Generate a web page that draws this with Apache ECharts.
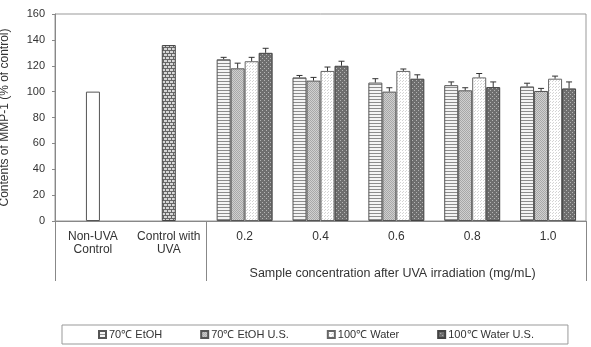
<!DOCTYPE html>
<html>
<head>
<meta charset="utf-8">
<script src="https://cdn.jsdelivr.net/npm/echarts@6/dist/echarts.min.js"></script>
<style>
  html, body { margin: 0; padding: 0; background: #fff; }
  #container { width: 591px; height: 347px; }
</style>
</head>
<body>
<div id="container"></div>
<script>
// MMP-1 含量柱状图
var categories = ['Non-UVA\nControl', 'Control with\nUVA', '0.2', '0.4', '0.6', '0.8', '1.0'];
var controlValues = [100, 136];
var seriesNames = ['70℃ EtOH', '70℃ EtOH U.S.', '100℃ Water', '100℃ Water U.S.'];
var etoh = [125, 111, 107, 105, 104];
var etohUS = [118, 108.5, 100, 101, 100.5];
var water = [123.5, 116, 116, 111, 110];
var waterUS = [130, 120, 110, 103.5, 102.5];
var etohErr = [1.5, 1.5, 3, 2.5, 2.5];
var etohUSErr = [4, 2.5, 3, 2, 2];
var waterErr = [3, 3, 1.5, 3, 2];
var waterUSErr = [3.5, 3.5, 3, 4, 5];
var yTicks = [0, 160, 20];
var groupTitle = 'Sample concentration after UVA irradiation (mg/mL)';

// 填充图案
function pat(w, h, bg, draw) {
  var c = document.createElement('canvas');
  c.width = w; c.height = h;
  var g = c.getContext('2d');
  g.fillStyle = bg;
  g.fillRect(0, 0, w, h);
  draw(g);
  return { image: c, repeat: 'repeat' };
}
var stripes = pat(4, 3, '#f4f4f4', function (g) {
  g.fillStyle = '#8c8c8c'; g.fillRect(0, 0, 4, 1);
});
var greyDots = pat(2, 2, '#d0d0d0', function (g) {
  g.fillStyle = '#a8a8a8'; g.fillRect(0, 0, 1, 1); g.fillRect(1, 1, 1, 1);
});
var lightDots = pat(3, 3, '#ffffff', function (g) {
  g.fillStyle = '#d4d4d4'; g.fillRect(0, 0, 1, 1); g.fillRect(1, 2, 1, 1);
});
var darkDots = pat(4, 4, '#6e6e6e', function (g) {
  g.fillStyle = '#b4b4b4'; g.fillRect(0, 0, 1, 1); g.fillRect(2, 2, 1, 1);
});
var brick = pat(8, 6, '#666666', function (g) {
  g.fillStyle = '#d6d6d6';
  g.fillRect(0, 0, 3, 2); g.fillRect(4, 0, 3, 2);
  g.fillRect(2, 3, 3, 2); g.fillRect(6, 3, 2, 2); g.fillRect(0, 3, 1, 2);
});
var fills = [stripes, greyDots, lightDots, darkDots];
var borders = ['#555', '#555', '#666', '#444'];

var groups = [etoh, etohUS, water, waterUS];
var errs = [etohErr, etohUSErr, waterErr, waterUSErr];
var barW = 14;

function pad(arr) { return ['-', '-'].concat(arr); }

var errData = [];
groups.forEach(function (vals, s) {
  vals.forEach(function (v, i) {
    errData.push([i + 2, v, errs[s][i], s]);
  });
});

var series = groups.map(function (vals, s) {
  return {
    name: seriesNames[s],
    type: 'bar',
    xAxisIndex: 0,
    barWidth: barW,
    barGap: '0%',
    data: pad(vals),
    itemStyle: { color: fills[s], borderColor: borders[s], borderWidth: 1 }
  };
});

series.push({
  name: 'controls',
  type: 'bar',
  xAxisIndex: 1,
  barWidth: barW,
  data: [
    { value: controlValues[0], itemStyle: { color: '#fff', borderColor: '#555', borderWidth: 1 } },
    { value: controlValues[1], itemStyle: { color: brick, borderColor: '#444', borderWidth: 1 } },
    '-', '-', '-', '-', '-'
  ]
});

series.push({
  type: 'custom',
  xAxisIndex: 0,
  z: 5,
  data: errData,
  renderItem: function (params, api) {
    var top = api.coord([api.value(0), api.value(1)]);
    var hi = api.coord([api.value(0), api.value(1) + api.value(2)]);
    var x = top[0] + (api.value(3) - 1.5) * barW;
    var st = { stroke: '#333', lineWidth: 1 };
    return {
      type: 'group',
      children: [
        { type: 'line', shape: { x1: x, y1: top[1], x2: x, y2: hi[1] }, style: st },
        { type: 'line', shape: { x1: x - 3, y1: hi[1], x2: x + 3, y2: hi[1] }, style: st }
      ]
    };
  }
});

var txt = { color: '#333', fontFamily: 'Liberation Sans', fontSize: 11 };

var myChart = echarts.init(document.getElementById('container'));
var option = {
  animation: false,
  textStyle: { fontFamily: 'Liberation Sans' },
  grid: {
    left: 55, right: 5, top: 14, bottom: 126,
    containLabel: false,
    outerBoundsMode: 'none',
    show: true, borderColor: '#999', borderWidth: 1
  },
  legend: {
    data: seriesNames,
    left: 62,
    top: 325,
    padding: [4, 34, 4, 36],
    borderColor: '#999',
    borderWidth: 1,
    itemWidth: 7,
    itemHeight: 7,
    itemGap: 38,
    icon: 'rect',
    textStyle: { color: '#333', fontFamily: 'Liberation Sans', fontSize: 11, padding: [0, 0, 0, -2] }
  },
  xAxis: [
    {
      type: 'category',
      data: categories,
      axisLine: { lineStyle: { color: '#888' } },
      axisTick: { length: 37, interval: 0, lineStyle: { color: '#888' } },
      axisLabel: Object.assign({}, txt, { fontSize: 12, interval: 0, margin: 9, lineHeight: 13, verticalAlign: 'top' })
    },
    {
      type: 'category',
      data: categories,
      show: false
    },
    {
      type: 'value',
      min: 0,
      max: 7,
      position: 'bottom',
      axisLine: { show: false },
      splitLine: { show: false },
      axisTick: { show: true, length: 60, customValues: [0, 2, 7], lineStyle: { color: '#888' } },
      axisLabel: Object.assign({}, txt, {
        fontSize: 12.5,
        customValues: [4.45],
        margin: 46,
        verticalAlign: 'top',
        formatter: function () { return groupTitle; }
      })
    }
  ],
  yAxis: {
    type: 'value',
    min: yTicks[0],
    max: yTicks[1],
    interval: yTicks[2],
    name: 'Contents of MMP-1 (% of control)',
    nameLocation: 'middle',
    nameGap: 44,
    nameTextStyle: { color: '#333', fontFamily: 'Liberation Sans', fontSize: 12 },
    axisLine: { show: true, lineStyle: { color: '#888' } },
    axisTick: { show: true, length: 3, lineStyle: { color: '#888' } },
    splitLine: { show: false },
    axisLabel: Object.assign({ margin: 10 }, txt)
  },
  series: series
};
myChart.setOption(option);
</script>
</body>
</html>
